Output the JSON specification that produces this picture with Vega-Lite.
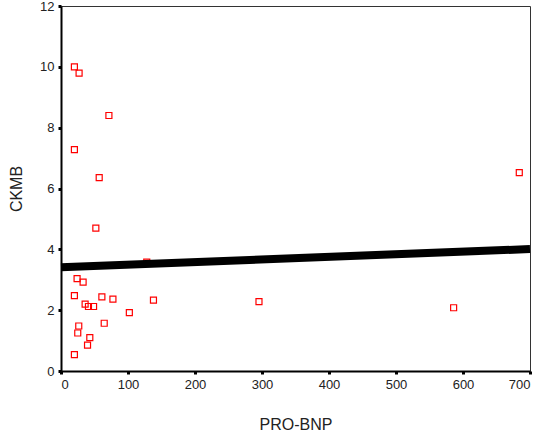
{
  "$schema": "https://vega.github.io/schema/vega-lite/v6.json",
  "autosize": "none",
  "width": 469,
  "height": 365,
  "padding": {"left": 61, "top": 6, "right": 11, "bottom": 72},
  "background": "white",
  "config": {
    "view": {"stroke": "#333333", "strokeWidth": 1},
    "axis": {
      "labelFont": "Liberation Sans",
      "titleFont": "Liberation Sans",
      "labelFontSize": 13,
      "titleFontSize": 16,
      "titleFontWeight": "normal",
      "labelColor": "#222222",
      "titleColor": "#222222",
      "domainColor": "black",
      "domainWidth": 2,
      "tickColor": "black",
      "tickWidth": 3,
      "tickSize": 3,
      "grid": false
    }
  },
  "datasets": {
    "pts": [
      {"pro_bnp": 20, "ckmb": 10.0},
      {"pro_bnp": 27, "ckmb": 9.79},
      {"pro_bnp": 71.5, "ckmb": 8.4},
      {"pro_bnp": 20, "ckmb": 7.28},
      {"pro_bnp": 57, "ckmb": 6.36},
      {"pro_bnp": 52, "ckmb": 4.7},
      {"pro_bnp": 24, "ckmb": 3.04},
      {"pro_bnp": 33, "ckmb": 2.92},
      {"pro_bnp": 20, "ckmb": 2.48},
      {"pro_bnp": 61, "ckmb": 2.44},
      {"pro_bnp": 77.5, "ckmb": 2.36},
      {"pro_bnp": 36, "ckmb": 2.2},
      {"pro_bnp": 41, "ckmb": 2.12},
      {"pro_bnp": 48.6, "ckmb": 2.12},
      {"pro_bnp": 102, "ckmb": 1.92},
      {"pro_bnp": 138, "ckmb": 2.33},
      {"pro_bnp": 64.5, "ckmb": 1.57},
      {"pro_bnp": 26.5, "ckmb": 1.48},
      {"pro_bnp": 25, "ckmb": 1.25},
      {"pro_bnp": 43, "ckmb": 1.1},
      {"pro_bnp": 39.6, "ckmb": 0.85},
      {"pro_bnp": 20, "ckmb": 0.54},
      {"pro_bnp": 128, "ckmb": 3.58},
      {"pro_bnp": 295.5, "ckmb": 2.28},
      {"pro_bnp": 586, "ckmb": 2.08},
      {"pro_bnp": 684, "ckmb": 6.52}
    ],
    "fit": [
      {"pro_bnp": 0, "ckmb": 3.41},
      {"pro_bnp": 700, "ckmb": 4.01}
    ]
  },
  "layer": [
    {
      "data": {"name": "pts"},
      "mark": {"type": "point", "shape": "square", "size": 36, "filled": false, "stroke": "#ff0000", "strokeWidth": 1.2, "opacity": 1},
      "encoding": {
        "x": {"field": "pro_bnp", "type": "quantitative", "scale": {"domain": [0, 700], "nice": false},
          "axis": {"title": "PRO-BNP", "values": [0, 100, 200, 300, 400, 500, 600, 700], "labelPadding": 4, "titlePadding": 25}},
        "y": {"field": "ckmb", "type": "quantitative", "scale": {"domain": [0, 12], "nice": false},
          "axis": {"title": "CKMB", "values": [0, 2, 4, 6, 8, 10, 12], "labelPadding": 4, "titlePadding": 15}}
      }
    },
    {
      "data": {"name": "fit"},
      "mark": {"type": "line", "color": "black", "strokeWidth": 8},
      "encoding": {
        "x": {"field": "pro_bnp", "type": "quantitative"},
        "y": {"field": "ckmb", "type": "quantitative"}
      }
    }
  ]
}
